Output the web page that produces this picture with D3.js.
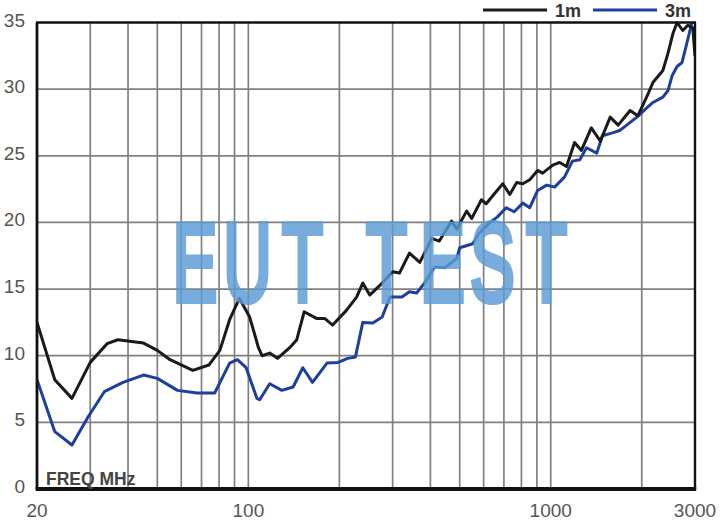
<!DOCTYPE html>
<html>
<head>
<meta charset="utf-8">
<script src="https://cdn.jsdelivr.net/npm/d3@7"></script>
<style>
  html, body { margin: 0; padding: 0; background: #fff; }
  svg { display: block; }
</style>
</head>
<body>
<svg id="chart" width="727" height="527"></svg>
<script>
// ---- data ----
const seriesNames = ["1m", "3m"];
const freq1m = [20, 22.9, 26.1, 30, 34.1, 37, 45, 50, 55.1, 65.5, 74, 80.5, 86.7, 93.4, 101, 108, 111, 117.7, 124.9, 137, 144.6, 153, 168, 178.8, 190, 211, 228, 239, 252, 277, 300, 316, 341, 369, 404, 428, 470, 489, 527, 548, 590, 612, 643, 694, 732, 772, 808, 852, 905, 940, 1016, 1071, 1128, 1199, 1263, 1362, 1459, 1573, 1671, 1830, 1941, 2095, 2177, 2349, 2443, 2538, 2617, 2733, 2840, 2950, 3000];
const val1m  = [12.5, 8.2, 6.8, 9.5, 10.9, 11.2, 10.95, 10.4, 9.7, 8.9, 9.3, 10.4, 12.7, 14.3, 12.9, 10.6, 10.0, 10.2, 9.8, 10.6, 11.2, 13.3, 12.8, 12.8, 12.3, 13.4, 14.4, 15.45, 14.55, 15.45, 16.3, 16.2, 17.7, 17.0, 18.8, 18.6, 20.1, 19.5, 20.85, 20.3, 21.7, 21.4, 22.0, 22.9, 22.1, 23.0, 22.9, 23.2, 23.9, 23.7, 24.3, 24.5, 24.2, 26.0, 25.4, 27.1, 26.1, 27.9, 27.3, 28.4, 28.0, 29.6, 30.5, 31.4, 32.7, 34.2, 35.0, 34.4, 34.8, 34.6, 32.5];
const freq3m = [20, 22.9, 26.1, 29.5, 33.4, 38.5, 45, 50, 58.3, 67.6, 77.4, 86.7, 92, 98.3, 106.7, 109, 117.7, 129, 140.6, 151.4, 163, 182, 198, 213, 226, 239, 258, 277, 294, 322, 341, 360, 384, 413, 446, 489, 500, 552, 580, 626, 665, 712, 757, 808, 852, 905, 970, 1030, 1110, 1180, 1248, 1313, 1420, 1483, 1590, 1690, 1783, 1927, 2078, 2177, 2349, 2443, 2519, 2617, 2718, 2823, 2930];
const val3m  = [8.2, 4.3, 3.3, 5.4, 7.3, 8.0, 8.55, 8.3, 7.4, 7.2, 7.2, 9.45, 9.7, 9.1, 6.8, 6.7, 7.9, 7.4, 7.65, 9.1, 8.0, 9.45, 9.5, 9.8, 9.9, 12.5, 12.45, 12.9, 14.4, 14.4, 14.8, 14.7, 15.5, 16.65, 16.6, 17.3, 18.1, 18.4, 19.2, 19.95, 20.4, 21.1, 20.8, 21.45, 21.1, 22.4, 22.8, 22.65, 23.4, 24.6, 24.7, 25.6, 25.2, 26.5, 26.7, 26.9, 27.3, 27.9, 28.6, 29.0, 29.4, 29.9, 31.0, 31.7, 32.0, 33.5, 35.0];
const yTicks = [0, 5, 10, 15, 20, 25, 30, 35];
const xTickLabels = [20, 100, 1000, 3000];
const xGrid = [30, 40, 50, 60, 70, 80, 90, 100, 200, 300, 400, 500, 600, 700, 800, 900, 1000, 2000];
const xAxisTitle = "FREQ MHz";
const watermark = "EUT TEST";

// ---- layout ----
const svg = d3.select("#chart");
const L = 37, R = 695, T = 22.5, B = 489;
const x = d3.scaleLog().domain([20, 3000]).range([L, R]);
const y = d3.scaleLinear().domain([0, 35]).range([B, T]);
const font = "'Liberation Sans', Arial, sans-serif";

// grid
const grid = svg.append("g").attr("stroke", "#808080").attr("stroke-width", 1.7);
grid.selectAll("line.v").data(xGrid).join("line")
  .attr("x1", d => x(d)).attr("x2", d => x(d)).attr("y1", T).attr("y2", B);
grid.selectAll("line.h").data(yTicks.slice(1, -1)).join("line")
  .attr("x1", L).attr("x2", R).attr("y1", d => y(d)).attr("y2", d => y(d));

// clip
svg.append("clipPath").attr("id", "clip").append("rect")
  .attr("x", L).attr("y", T - 1).attr("width", R - L).attr("height", B - T + 1);

const line = d3.line().x(d => x(d[0])).y(d => y(Math.min(35, d[1]))).curve(d3.curveLinear);
const d1 = freq1m.map((f, i) => [f, val1m[i]]);
const d3m = freq3m.map((f, i) => [f, val3m[i]]);
const plot = svg.append("g").attr("clip-path", "url(#clip)");
plot.append("path").datum(d3m).attr("d", line)
  .attr("fill", "none").attr("stroke", "#1d3f9e").attr("stroke-width", 3).attr("stroke-linejoin", "round");
plot.append("path").datum(d1).attr("d", line)
  .attr("fill", "none").attr("stroke", "#1a1a1a").attr("stroke-width", 3).attr("stroke-linejoin", "round");

// border
const bd = svg.append("g").attr("stroke", "#111");
bd.append("line").attr("x1", L - 1).attr("x2", R + 1).attr("y1", T).attr("y2", T).attr("stroke-width", 2.5);
bd.append("line").attr("x1", L).attr("x2", L).attr("y1", T).attr("y2", B).attr("stroke-width", 2.8);
bd.append("line").attr("x1", R).attr("x2", R).attr("y1", T).attr("y2", B).attr("stroke-width", 2.4);
bd.append("line").attr("x1", L - 1.4).attr("x2", R + 1.2).attr("y1", B).attr("y2", B).attr("stroke-width", 4);

// y tick labels
svg.append("g").selectAll("text").data(yTicks).join("text")
  .attr("x", 25).attr("y", d => y(d) + 4)
  .attr("text-anchor", "end")
  .attr("font-family", font).attr("font-size", 19).attr("fill", "#555")
  .text(d => d);

// x tick labels
svg.append("g").selectAll("text").data(xTickLabels).join("text")
  .attr("x", d => x(d)).attr("y", 517)
  .attr("text-anchor", "middle")
  .attr("font-family", font).attr("font-size", 19).attr("fill", "#555")
  .text(d => d);

// axis title inside plot
svg.append("text").attr("x", 46).attr("y", 485)
  .attr("font-family", font).attr("font-size", 17.5).attr("font-weight", "bold").attr("fill", "#444")
  .text(xAxisTitle);

// legend
const legColors = ["#1a1a1a", "#1d3f9e"];
const legX = [483, 593];
const leg = svg.append("g");
seriesNames.forEach((n, i) => {
  leg.append("line").attr("x1", legX[i]).attr("x2", legX[i] + 64).attr("y1", 10).attr("y2", 10)
    .attr("stroke", legColors[i]).attr("stroke-width", 3);
  leg.append("text").attr("x", legX[i] + 72).attr("y", 17)
    .attr("font-family", font).attr("font-size", 18).attr("font-weight", "bold").attr("fill", "#333")
    .text(n);
});

// watermark: letters placed individually, condensed
const wmCenters = [195, 247.5, 302.5, null, 386.5, 442.5, 492.5, 546.5];
const wm = svg.append("g").attr("opacity", 0.82);
Array.from(watermark).forEach((ch, i) => {
  if (ch === " ") return;
  wm.append("text")
    .attr("transform", `translate(${wmCenters[i]},301) scale(0.6,1)`)
    .attr("text-anchor", "middle")
    .attr("font-family", font).attr("font-size", 112)
    .attr("fill", "#5b9bd5")
    .attr("stroke", "#5b9bd5").attr("stroke-width", 5).attr("vector-effect", "non-scaling-stroke")
    .text(ch);
});
</script>
</body>
</html>
